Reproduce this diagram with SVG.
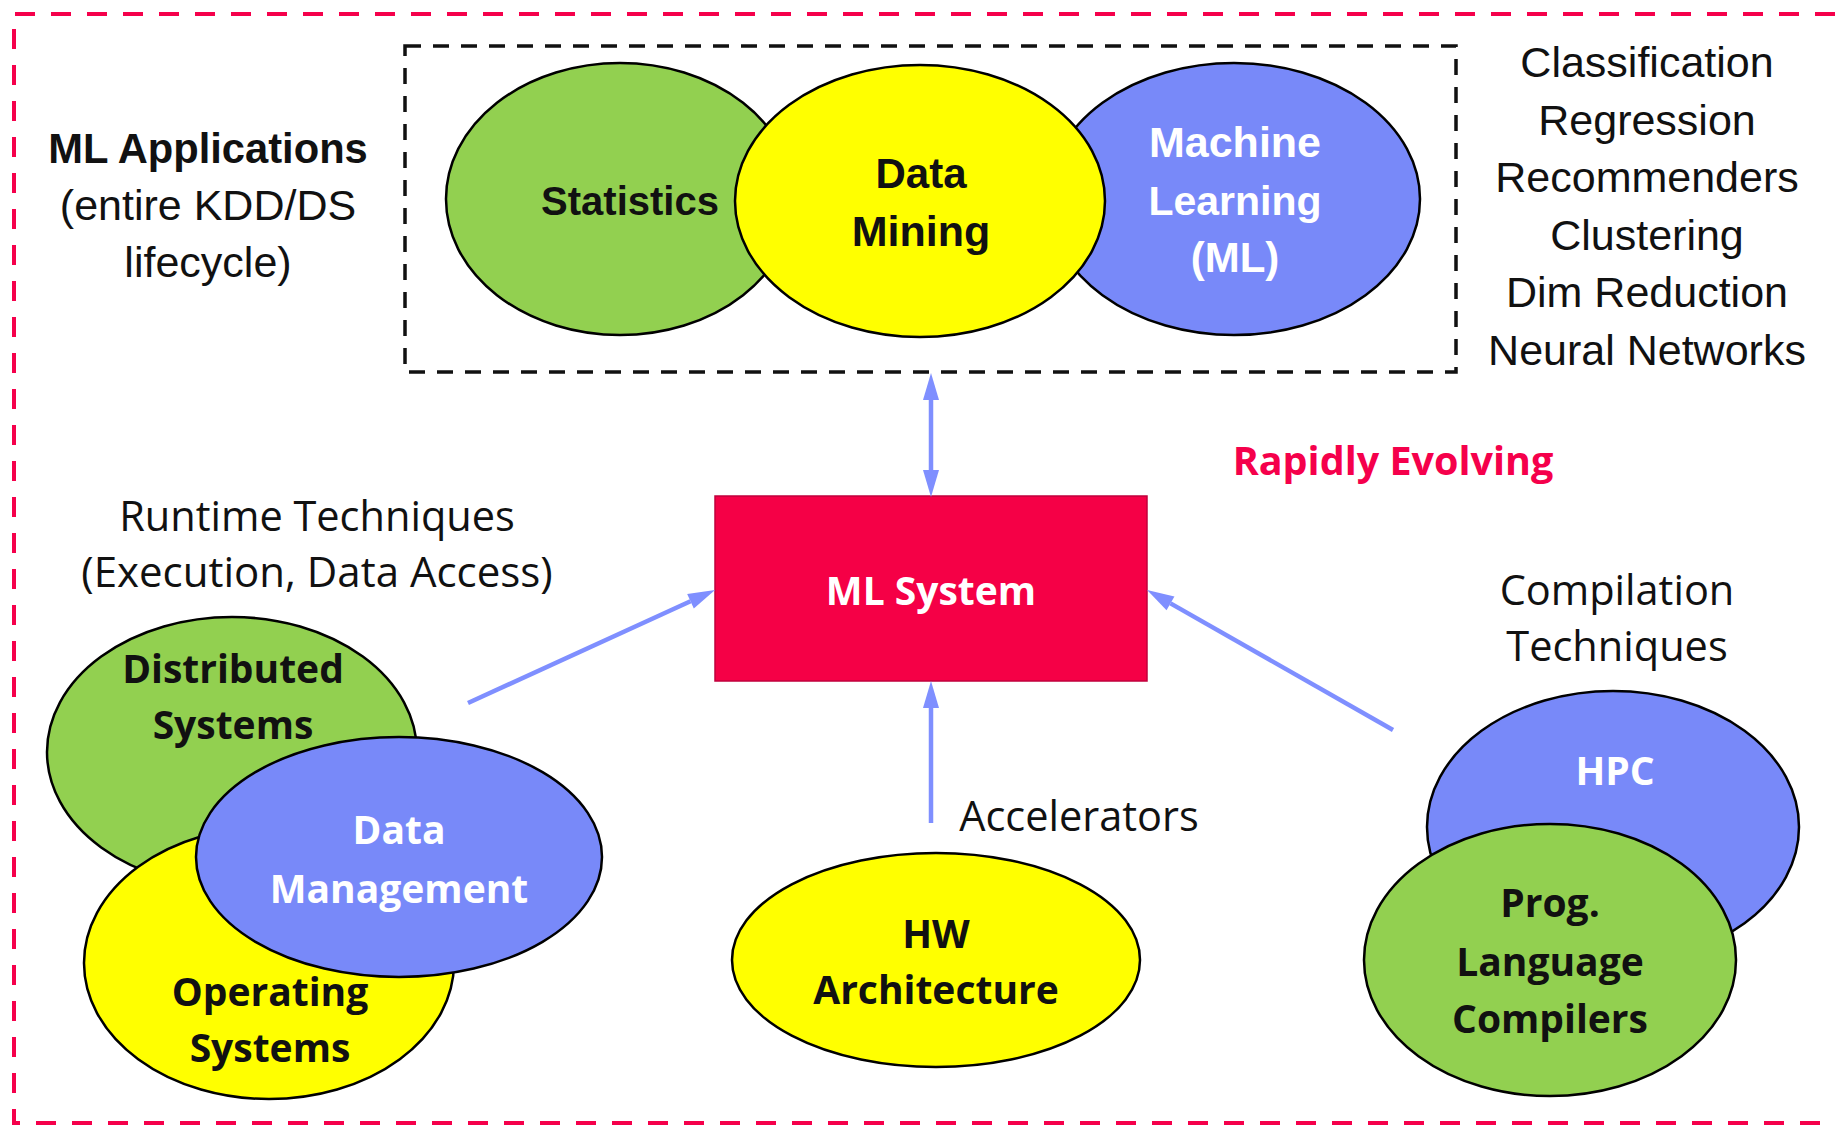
<svg xmlns="http://www.w3.org/2000/svg" width="1835" height="1126" viewBox="0 0 1835 1126">
  <defs>
    <style>
      .calibri { font-family: "Liberation Sans", Arial, sans-serif; text-anchor: middle; fill: #111; }
      .segoe { font-family: "Open Sans", "Liberation Sans", sans-serif; text-anchor: middle; fill: #111; }
      .reg { font-size: 43px; }
      .boldc { font-size: 40px; font-weight: bold; }
      .regs { font-size: 41.5px; }
      .bolds { font-size: 39px; font-weight: bold; }
      .white { fill: #fff; }
      .ell { stroke: #000; stroke-width: 2.5; }
      .green { fill: #92D050; }
      .yellow { fill: #FFFF00; }
      .blue { fill: #7889F9; }
      .conn { stroke: #7F8FFF; stroke-width: 4.5; fill: none; }
    </style>
    <marker id="head" markerUnits="userSpaceOnUse" markerWidth="28" markerHeight="18" refX="0" refY="8" orient="auto-start-reverse" overflow="visible">
      <path d="M0,0 L27,8 L0,16 Z" fill="#7F8FFF"/>
    </marker>
  </defs>

  <rect width="1835" height="1126" fill="#fff"/>

  <!-- outer frame (open on the right) -->
  <path d="M1835,14 H14 V1123 H1835" fill="none" stroke="#F5004B" stroke-width="4" stroke-dasharray="20 16"/>

  <!-- application area frame -->
  <rect x="405" y="46" width="1051" height="326" fill="none" stroke="#111" stroke-width="3.5" stroke-dasharray="16 12"/>

  <!-- ML applications caption -->
  <g id="ml-applications">
    <text class="calibri boldc" x="208" y="163" style="font-size:41.7px">ML Applications</text>
    <text class="calibri reg" x="208" y="220">(entire KDD/DS</text>
    <text class="calibri reg" x="208" y="277">lifecycle)</text>
  </g>

  <g id="statistics">
    <ellipse class="ell green" cx="620" cy="199" rx="174" ry="136"/>
    <text class="calibri boldc" x="630" y="215">Statistics</text>
  </g>

  <g id="machine-learning">
    <ellipse class="ell blue" cx="1234" cy="199" rx="186" ry="136"/>
    <g style="font-size:43px">
      <text class="calibri boldc white" x="1235" y="157" style="font-size:43px">Machine</text>
      <text class="calibri boldc white" x="1235" y="215" style="font-size:41px">Learning</text>
      <text class="calibri boldc white" x="1235" y="272" style="font-size:42px">(ML)</text>
    </g>
  </g>

  <g id="data-mining">
    <ellipse class="ell yellow" cx="920" cy="201" rx="185" ry="136"/>
    <text class="calibri boldc" x="921" y="188" style="font-size:42px">Data</text>
    <text class="calibri boldc" x="921" y="246" style="font-size:43px">Mining</text>
  </g>

  <g id="ml-tasks">
    <text class="calibri reg" x="1647" y="77">Classification</text>
    <text class="calibri reg" x="1647" y="134.5">Regression</text>
    <text class="calibri reg" x="1647" y="192">Recommenders</text>
    <text class="calibri reg" x="1647" y="249.5">Clustering</text>
    <text class="calibri reg" x="1647" y="307">Dim Reduction</text>
    <text class="calibri reg" x="1647" y="364.5">Neural Networks</text>
  </g>

  <g id="rapidly-evolving">
    <text class="segoe bolds" x="1393" y="475" style="fill:#F5004B;font-size:39.5px">Rapidly Evolving</text>
  </g>

  <g id="ml-system">
    <rect x="715" y="496" width="432" height="185" fill="#F50046" stroke="#C0003C" stroke-width="1.5"/>
    <text class="segoe bolds white" x="931" y="605">ML System</text>
  </g>

  <!-- runtime techniques cluster -->
  <g id="runtime-techniques">
    <text class="segoe regs" x="317" y="531">Runtime Techniques</text>
    <text class="segoe regs" x="317" y="587" style="font-size:42px">(Execution, Data Access)</text>
  </g>

  <g id="distributed-systems">
    <ellipse class="ell green" cx="232" cy="752" rx="185" ry="135"/>
    <text class="segoe bolds" x="233" y="683">Distributed</text>
    <text class="segoe bolds" x="233" y="739">Systems</text>
  </g>

  <g id="operating-systems">
    <ellipse class="ell yellow" cx="269" cy="963" rx="185" ry="136"/>
    <text class="segoe bolds" x="270" y="1006">Operating</text>
    <text class="segoe bolds" x="270" y="1062">Systems</text>
  </g>

  <g id="data-management">
    <ellipse class="ell blue" cx="399" cy="857" rx="203" ry="120"/>
    <text class="segoe bolds white" x="399" y="844">Data</text>
    <text class="segoe bolds white" x="399" y="903">Management</text>
  </g>

  <!-- hardware -->
  <g id="accelerators">
    <text class="segoe regs" x="1079" y="831">Accelerators</text>
  </g>

  <g id="hw-architecture">
    <ellipse class="ell yellow" cx="936" cy="960" rx="204" ry="107"/>
    <text class="segoe bolds" x="936" y="948">HW</text>
    <text class="segoe bolds" x="936" y="1004">Architecture</text>
  </g>

  <!-- compilation cluster -->
  <g id="compilation-techniques">
    <text class="segoe regs" x="1617" y="605">Compilation</text>
    <text class="segoe regs" x="1617" y="661">Techniques</text>
  </g>

  <g id="hpc">
    <ellipse class="ell blue" cx="1613" cy="827" rx="186" ry="136"/>
    <text class="segoe bolds white" x="1615" y="785">HPC</text>
  </g>

  <g id="compilers">
    <ellipse class="ell green" cx="1550" cy="960" rx="186" ry="136"/>
    <text class="segoe bolds" x="1550" y="917">Prog.</text>
    <text class="segoe bolds" x="1550" y="976">Language</text>
    <text class="segoe bolds" x="1550" y="1033">Compilers</text>
  </g>

  <!-- connectors -->
  <g id="connectors">
    <path class="conn" d="M931,400 L931,470" marker-start="url(#head)" marker-end="url(#head)"/>
    <path class="conn" d="M931,823 L931,708" marker-end="url(#head)"/>
    <path class="conn" d="M468,703 L690.5,601.2" marker-end="url(#head)"/>
    <path class="conn" d="M1393,730 L1170.5,603.4" marker-end="url(#head)"/>
  </g>
</svg>
